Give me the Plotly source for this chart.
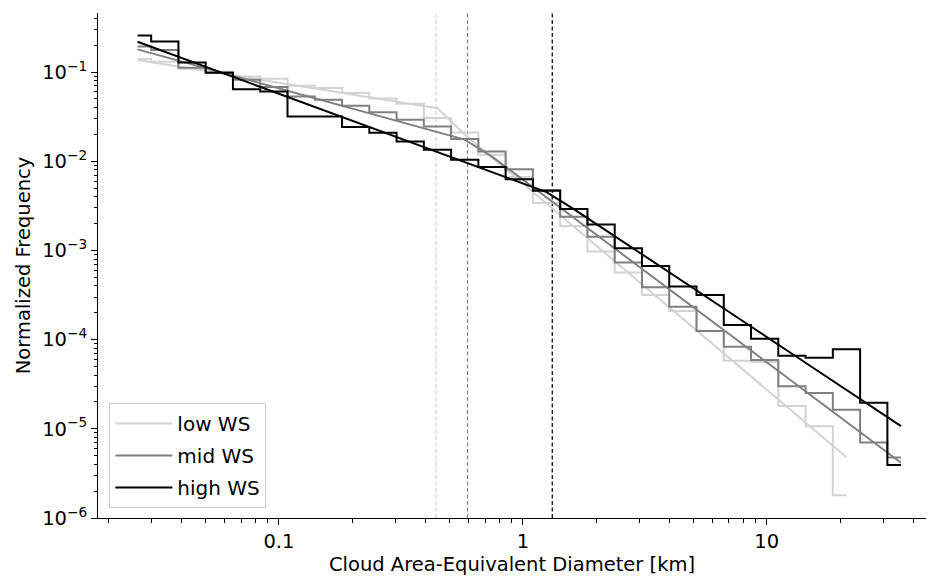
import plotly.graph_objects as go

# Bin centres (cloud area-equivalent diameter, km)
diam = [0.02631, 0.03403, 0.04402, 0.05694, 0.07366, 0.09530, 0.1233, 0.1595,
        0.2063, 0.2669, 0.3452, 0.4466, 0.5777, 0.7473, 0.9667, 1.2506, 1.6177,
        2.0927, 2.7072, 3.5020, 4.5302, 5.8603, 7.5808, 9.8063, 12.686, 16.410,
        21.229, 27.461, 35.524]

# Normalized frequency histograms
low_hist = [0.140, 0.1306, 0.1089, 0.1008, 0.0893, 0.0841, 0.0702, 0.0661, 0.0581,
            0.0504, 0.0441, 0.0305, 0.0210, 0.0118, 0.00664, 0.00341, 0.00188,
            0.000975, 0.000564, 0.000317, 0.000210, 0.000125, 5.80e-5, 5.61e-5,
            1.80e-5, 1.07e-5, 1.80e-6]
mid_hist = [0.1936, 0.1766, 0.1117, 0.0990, 0.0820, 0.0679, 0.0532, 0.0489, 0.0419,
            0.0354, 0.0292, 0.0245, 0.0177, 0.01285, 0.00815, 0.00477, 0.00239,
            0.00142, 0.000733, 0.000386, 0.000234, 0.000125, 8.31e-5, 5.90e-5,
            3.01e-5, 2.52e-5, 1.64e-5, 7.03e-6, 4.78e-6]
high_hist = [0.2576, 0.2203, 0.128, 0.0982, 0.0641, 0.0605, 0.0318, 0.0318, 0.0242,
             0.0208, 0.01665, 0.01343, 0.01038, 0.00859, 0.00630, 0.00466, 0.00292,
             0.00195, 0.00106, 0.000670, 0.000393, 0.000317, 0.000146, 0.000102,
             6.60e-5, 6.26e-5, 7.78e-5, 1.96e-5, 3.92e-6]

# Broken power-law fits
low_fit = [0.1364, 0.1220, 0.1088, 0.0975, 0.0869, 0.0776, 0.0695, 0.0620, 0.0553,
           0.0495, 0.0442, 0.0393, 0.0200, 0.01104, 0.00609, 0.00336, 0.00185,
           0.00102, 0.000562, 0.000311, 0.000171, 9.44e-5, 5.20e-5, 2.87e-5,
           1.58e-5, 8.72e-6, 4.81e-6]
mid_fit = [0.1795, 0.1477, 0.1216, 0.1002, 0.0826, 0.0681, 0.0561, 0.0462, 0.0380,
           0.0313, 0.0258, 0.0213, 0.0175, 0.01127, 0.00667, 0.00394, 0.00232,
           0.00137, 0.000809, 0.000478, 0.000282, 0.000167, 9.82e-5, 5.79e-5,
           3.43e-5, 2.02e-5, 1.19e-5, 7.06e-6, 4.17e-6]
high_fit = [0.2188, 0.1691, 0.1305, 0.1005, 0.0776, 0.0600, 0.0463, 0.0358, 0.0275,
            0.0213, 0.0164, 0.01268, 0.00979, 0.00756, 0.00584, 0.00450, 0.00291,
            0.00183, 0.00114, 0.000718, 0.000450, 0.000282, 0.000177, 0.000111,
            6.95e-5, 4.36e-5, 2.74e-5, 1.71e-5, 1.07e-5]

# Break (scale) diameters, km
breaks = [0.44, 0.593, 1.32]

names = ["low WS", "mid WS", "high WS"]
colors = ["#d3d3d3", "#808080", "#000000"]
hists = [low_hist, mid_hist, high_hist]
fits = [low_fit, mid_fit, high_fit]

y_lo, y_hi = 1e-6, 10 ** -0.338

fig = go.Figure()

for i in range(3):
    fig.add_trace(go.Scatter(x=[breaks[i], breaks[i]], y=[y_lo, y_hi], mode="lines",
                             line=dict(color=colors[i], width=1.2, dash="4px,2.5px"),
                             showlegend=False, hoverinfo="skip"))

for i in range(3):
    n = len(hists[i])
    fig.add_trace(go.Scatter(x=diam[:n], y=hists[i], mode="lines", name=names[i],
                             line=dict(color=colors[i], width=2, shape="hvh"),
                             legendgroup=names[i]))
    fig.add_trace(go.Scatter(x=diam[:len(fits[i])], y=fits[i], mode="lines",
                             line=dict(color=colors[i], width=2),
                             showlegend=False, legendgroup=names[i]))

font = dict(family="DejaVu Sans", size=19.5, color="black")

xminor = [m * 10 ** e for e in (-2, -1, 0, 1) for m in range(2, 10)]
yminor = [m * 10 ** e for e in range(-6, 0) for m in range(2, 10)]

fig.update_layout(
    width=928, height=581,
    margin=dict(l=98, r=2, t=13, b=63),
    paper_bgcolor="white", plot_bgcolor="white",
    font=font,
    showlegend=True,
    legend=dict(x=0.0137, y=0.02, xanchor="left", yanchor="bottom",
                bordercolor="#cccccc", borderwidth=1, bgcolor="rgba(255,255,255,0.8)",
                font=dict(family="DejaVu Sans", size=20, color="black"),
                traceorder="grouped", tracegroupgap=3,
                itemwidth=57),
    xaxis=dict(type="log", range=[-1.742, 1.653],
               tickvals=[0.1, 1, 10], ticktext=["0.1", "1", "10"],
               ticks="outside", ticklen=6, tickwidth=1, tickcolor="black",
               showline=True, linecolor="black", linewidth=1, showgrid=False,
               zeroline=False, mirror=False,
               minor=dict(tickvals=xminor, ticks="outside", ticklen=3.5,
                          tickwidth=0.8, tickcolor="black", showgrid=False),
               title=dict(text="Cloud Area-Equivalent Diameter [km]", standoff=4,
                          font=font),
               tickfont=font),
    yaxis=dict(type="log", range=[-6, -0.338],
               tickvals=[1e-6, 1e-5, 1e-4, 1e-3, 1e-2, 1e-1],
               ticktext=["10<sup>−6</sup>", "10<sup>−5</sup>", "10<sup>−4</sup>",
                         "10<sup>−3</sup>", "10<sup>−2</sup>", "10<sup>−1</sup>"],
               ticks="outside", ticklen=6, tickwidth=1, tickcolor="black",
               showline=True, linecolor="black", linewidth=1, showgrid=False,
               zeroline=False, mirror=False,
               minor=dict(tickvals=yminor, ticks="outside", ticklen=3.5,
                          tickwidth=0.8, tickcolor="black", showgrid=False),
               title=dict(text="Normalized Frequency", standoff=6, font=font),
               tickfont=font),
)

fig.write_html("out.html")
